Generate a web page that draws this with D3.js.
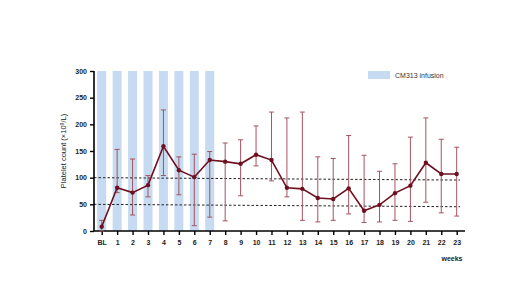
<!DOCTYPE html>
<html>
<head>
<meta charset="utf-8">
<script src="https://cdn.jsdelivr.net/npm/d3@7"></script>
<style>
  body { margin: 0; background: #fff; }
  text { font-family: "Liberation Sans", Arial, sans-serif; }
</style>
</head>
<body>
<div id="chart"></div>
<script>
// Data
const weeks = ["BL","1","2","3","4","5","6","7","8","9","10","11","12","13","14","15","16","17","18","19","20","21","22","23"];
const platelet = [8,81,72,86,159,114,101,133,130,126,143,133,81,79,62,60,80,38,49,71,85,128,107,107];
const upper = [20,153,135,104,227,139,144,149,165,171,197,223,212,223,139,136,179,142,112,126,176,212,172,157];
const lower = [0,72,30,64,104,68,10,26,19,66,122,94,64,20,17,20,32,16,17,20,18,54,34,28];
const infusionWeeks = ["BL","1","2","3","4","5","6","7"];
const yTicks = [0,50,100,150,200,250,300];
// reference lines: value at left end, value at right end
const refLines = [[100, 95.5], [50, 45.5]];

const W = 520, H = 291;
const margin = {top: 71, right: 55, bottom: 60, left: 94},
    width = W - margin.left - margin.right,
    height = H - margin.top - margin.bottom;

const svg = d3.select("#chart")
  .append("svg")
    .attr("width", W)
    .attr("height", H)
  .append("g")
    .attr("transform", `translate(${margin.left},${margin.top})`);

// X scale
const x = d3.scalePoint()
  .domain(weeks)
  .range([7.7, 362.7]);

// Y scale
const y = d3.scaleLinear()
  .domain([0, 300])
  .range([height, 0]);

// Infusion bars
svg.append("g")
  .selectAll("rect")
  .data(infusionWeeks)
  .join("rect")
    .attr("x", d => x(d) - 4.5)
    .attr("y", y(300))
    .attr("width", 9)
    .attr("height", y(0) - y(300))
    .attr("fill", "#c6daf1");

// Reference dashed lines
svg.append("g")
  .selectAll("line")
  .data(refLines)
  .join("line")
    .attr("x1", 0)
    .attr("x2", 366)
    .attr("y1", d => y(d[0]))
    .attr("y2", d => y(d[1]))
    .attr("stroke", "#222")
    .attr("stroke-width", 1)
    .attr("stroke-dasharray", "2.5,2");

// Y axis
const yAxis = svg.append("g")
  .call(d3.axisLeft(y).tickValues(yTicks).tickSize(4).tickPadding(3));
yAxis.select(".domain").attr("stroke-width", 1.6).attr("d", `M0,${y(0)}V${y(300)}`);
yAxis.selectAll(".tick line").attr("stroke-width", 1.4);
yAxis.selectAll("text").style("font-size", "7px").style("font-weight", "bold").attr("fill", "#222");

// X axis
const xAxis = svg.append("g")
  .attr("transform", `translate(0,${height})`)
  .call(d3.axisBottom(x).tickSize(4).tickPadding(5));
xAxis.select(".domain").attr("stroke-width", 1.6).attr("d", `M0,0H${371}`);
xAxis.selectAll(".tick line").attr("stroke-width", 1.4);
xAxis.selectAll("text").style("font-size", "7px").style("font-weight", "bold").attr("fill", "#222");

// Error bars
const eb = svg.append("g")
  .attr("stroke", "#a4545f")
  .attr("stroke-width", 1);
eb.selectAll(".v")
  .data(weeks)
  .join("line")
    .attr("class", "v")
    .attr("x1", d => x(d)).attr("x2", d => x(d))
    .attr("y1", (d, i) => y(upper[i]))
    .attr("y2", (d, i) => y(lower[i]));
eb.selectAll(".cu")
  .data(weeks)
  .join("line")
    .attr("class", "cu")
    .attr("x1", d => x(d) - 2.5).attr("x2", d => x(d) + 2.5)
    .attr("y1", (d, i) => y(upper[i]))
    .attr("y2", (d, i) => y(upper[i]));
eb.selectAll(".cl")
  .data(weeks)
  .join("line")
    .attr("class", "cl")
    .attr("x1", d => x(d) - 2.5).attr("x2", d => x(d) + 2.5)
    .attr("y1", (d, i) => y(lower[i]))
    .attr("y2", (d, i) => y(lower[i]));

// Mean line
const line = d3.line()
  .x((d, i) => x(weeks[i]))
  .y(d => y(d));
svg.append("path")
  .datum(platelet)
  .attr("fill", "none")
  .attr("stroke", "#6e1020")
  .attr("stroke-width", 1.6)
  .attr("d", line);

// Points
svg.append("g")
  .selectAll("circle")
  .data(platelet)
  .join("circle")
    .attr("cx", (d, i) => x(weeks[i]))
    .attr("cy", d => y(d))
    .attr("r", 2.2)
    .attr("fill", "#6e1020");

// Legend
svg.append("rect")
  .attr("x", 274)
  .attr("y", 0)
  .attr("width", 22)
  .attr("height", 8)
  .attr("fill", "#c6daf1");
svg.append("text")
  .attr("x", 301)
  .attr("y", 6.5)
  .style("font-size", "7px")
  .attr("fill", "#333")
  .text("CM313 infusion");

// X axis label
svg.append("text")
  .attr("text-anchor", "middle")
  .attr("x", 358)
  .attr("y", height + 30)
  .style("font-size", "7px")
  .style("font-weight", "bold")
  .attr("fill", "#222")
  .text("weeks");

// Y axis label
const yl = svg.append("text")
  .attr("text-anchor", "middle")
  .attr("transform", `translate(-28,${height / 2}) rotate(-90)`)
  .style("font-size", "7.5px")
  .attr("fill", "#222");
yl.append("tspan").text("Platelet count (×10");
yl.append("tspan").attr("dy", -2.5).style("font-size", "5px").text("9");
yl.append("tspan").attr("dy", 2.5).text("/L)");
</script>
</body>
</html>
